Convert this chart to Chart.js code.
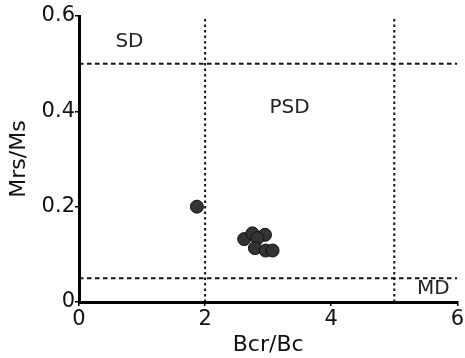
<!DOCTYPE html>
<html>
<head>
<meta charset="utf-8">
<script src="https://cdn.jsdelivr.net/npm/chart.js@4/dist/chart.umd.min.js"></script>
<style>
  html, body { margin: 0; padding: 0; background: #fff; }
  #wrap { width: 465px; height: 358px; }
</style>
</head>
<body>
<div id="wrap"><canvas id="chart"></canvas></div>
<script>
// samples (Bcr/Bc, Mrs/Ms)
const bcrBc = [1.87, 2.62, 2.75, 2.95, 2.83, 2.79, 2.96, 3.07];
const mrsMs = [0.200, 0.132, 0.144, 0.141, 0.134, 0.113, 0.108, 0.108];

// domain boundaries
const vLines = [2, 5];
const hLines = [0.5, 0.05];

// region labels
const regionNames = ["SD", "PSD", "MD"];
const regionX = [0.8, 3.34, 5.62];
const regionY = [0.545, 0.407, 0.027];

const xTicks = [0, 2, 4, 6];
const yTicks = [0, 0.2, 0.4, 0.6];
const yTickLabels = ["0", "0.2", "0.4", "0.6"];

const FONT = "'DejaVu Sans', sans-serif";

const lineBase = {
  borderColor: "#111",
  borderWidth: 2,
  pointRadius: 0,
  showLine: true,
  fill: false
};

const datasets = [];
vLines.forEach(x => datasets.push(Object.assign({ data: [{ x, y: 0 }, { x, y: 0.6 }], borderDash: [2.5, 3] }, lineBase)));
hLines.forEach(y => datasets.push(Object.assign({ data: [{ x: 0, y }, { x: 6, y }], borderDash: [4.5, 3.5] }, lineBase)));
datasets.push({
  data: bcrBc.map((x, i) => ({ x, y: mrsMs[i] })),
  pointRadius: 6.5,
  pointBackgroundColor: "#333333",
  pointBorderColor: "#111111",
  pointBorderWidth: 1
});

const regionLabels = {
  id: "regionLabels",
  afterDatasetsDraw(chart) {
    const { ctx, scales } = chart;
    ctx.save();
    ctx.fillStyle = "#222";
    ctx.font = "20px " + FONT;
    ctx.textAlign = "center";
    ctx.textBaseline = "middle";
    regionNames.forEach((t, i) => {
      ctx.fillText(t, scales.x.getPixelForValue(regionX[i]), scales.y.getPixelForValue(regionY[i]));
    });
    ctx.restore();
  }
};

new Chart(document.getElementById("chart"), {
  type: "scatter",
  data: { datasets },
  plugins: [regionLabels],
  options: {
    responsive: true,
    maintainAspectRatio: false,
    animation: false,
    layout: { padding: { top: 16, right: 5, left: 0, bottom: 0 } },
    plugins: { legend: { display: false }, tooltip: { enabled: false } },
    scales: {
      x: {
        type: "linear",
        min: 0,
        max: 6,
        afterBuildTicks: s => { s.ticks = xTicks.map(v => ({ value: v })); },
        afterFit: s => { s.height = 56; },
        border: { display: true, color: "#000", width: 3 },
        grid: { display: true, drawOnChartArea: false, drawTicks: true, tickLength: 4, color: "#000", lineWidth: 1.5 },
        ticks: { color: "#111", font: { family: FONT, size: 21 }, padding: 1 },
        title: { display: true, text: "Bcr/Bc", color: "#111", font: { family: FONT, size: 22 }, padding: { top: -8, bottom: 0 } }
      },
      y: {
        type: "linear",
        min: 0,
        max: 0.6,
        afterBuildTicks: s => { s.ticks = yTicks.map(v => ({ value: v })); },
        afterFit: s => { s.width = 79; },
        border: { display: true, color: "#000", width: 3 },
        grid: { display: true, drawOnChartArea: false, drawTicks: true, tickLength: 4, color: "#000", lineWidth: 1.5 },
        ticks: {
          color: "#111",
          font: { family: FONT, size: 21 },
          padding: 0,
          callback: (v) => yTickLabels[yTicks.indexOf(v)] ?? ""
        },
        title: { display: true, text: "Mrs/Ms", color: "#111", font: { family: FONT, size: 22 }, padding: { top: 6, bottom: 0 } }
      }
    }
  }
});
</script>
</body>
</html>
